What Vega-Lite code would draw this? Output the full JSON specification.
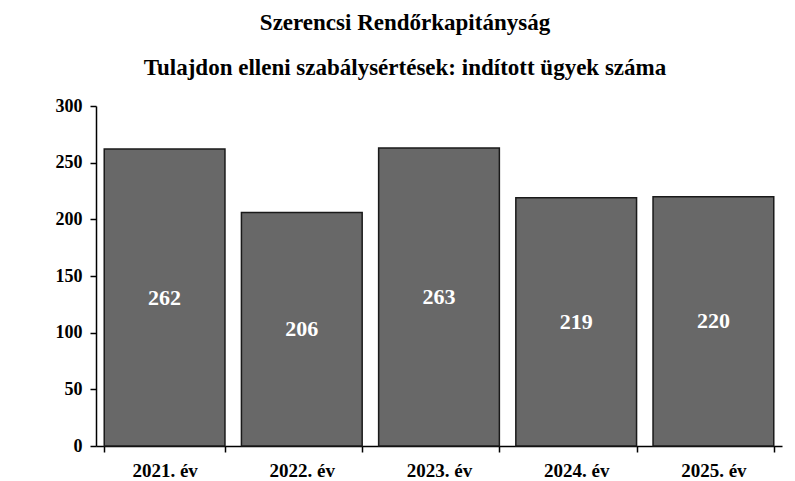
{
  "$schema": "https://vega.github.io/schema/vega-lite/v6.json",
  "autosize": {"type": "none"},
  "width": 686,
  "height": 340,
  "padding": {"left": 96, "top": 106, "right": 13, "bottom": 35},
  "background": "white",
  "title": {
    "text": "Szerencsi Rendőrkapitányság",
    "subtitle": "Tulajdon elleni szabálysértések: indított ügyek száma",
    "anchor": "middle",
    "font": "Liberation Serif",
    "fontSize": 23,
    "fontWeight": "bold",
    "color": "black",
    "subtitleFont": "Liberation Serif",
    "subtitleFontSize": 23,
    "subtitleFontWeight": "bold",
    "subtitleColor": "black",
    "subtitlePadding": 22,
    "offset": 17,
    "dx": -34
  },
  "config": {
    "view": {"stroke": null},
    "axis": {
      "labelFont": "Liberation Serif",
      "labelFontWeight": "bold",
      "labelColor": "black",
      "domainColor": "black",
      "tickColor": "black",
      "domainWidth": 1.5,
      "tickWidth": 1.5,
      "grid": false
    }
  },
  "data": {
    "values": [
      {"year": "2021. év", "value": 262},
      {"year": "2022. év", "value": 206},
      {"year": "2023. év", "value": 263},
      {"year": "2024. év", "value": 219},
      {"year": "2025. év", "value": 220}
    ]
  },
  "transform": [{"calculate": "datum.value / 2", "as": "mid"}],
  "encoding": {
    "x": {
      "field": "year",
      "type": "nominal",
      "sort": null,
      "scale": {"paddingInner": 0.12, "paddingOuter": 0.06},
      "axis": {"title": null, "labelAngle": 0, "tickBand": "extent", "tickSize": 6, "labelPadding": 9, "labelFontSize": 19}
    }
  },
  "layer": [
    {
      "mark": {"type": "bar", "fill": "#686868", "stroke": "#1a1a1a", "strokeWidth": 1.5},
      "encoding": {
        "y": {
          "field": "value",
          "type": "quantitative",
          "scale": {"domain": [0, 300]},
          "axis": {"title": null, "values": [0, 50, 100, 150, 200, 250, 300], "tickSize": 6, "labelPadding": 8, "labelFontSize": 18}
        }
      }
    },
    {
      "mark": {"type": "text", "color": "white", "font": "Liberation Serif", "fontWeight": "bold", "fontSize": 22, "baseline": "middle"},
      "encoding": {
        "y": {"field": "mid", "type": "quantitative"},
        "text": {"field": "value", "type": "quantitative"}
      }
    }
  ]
}
